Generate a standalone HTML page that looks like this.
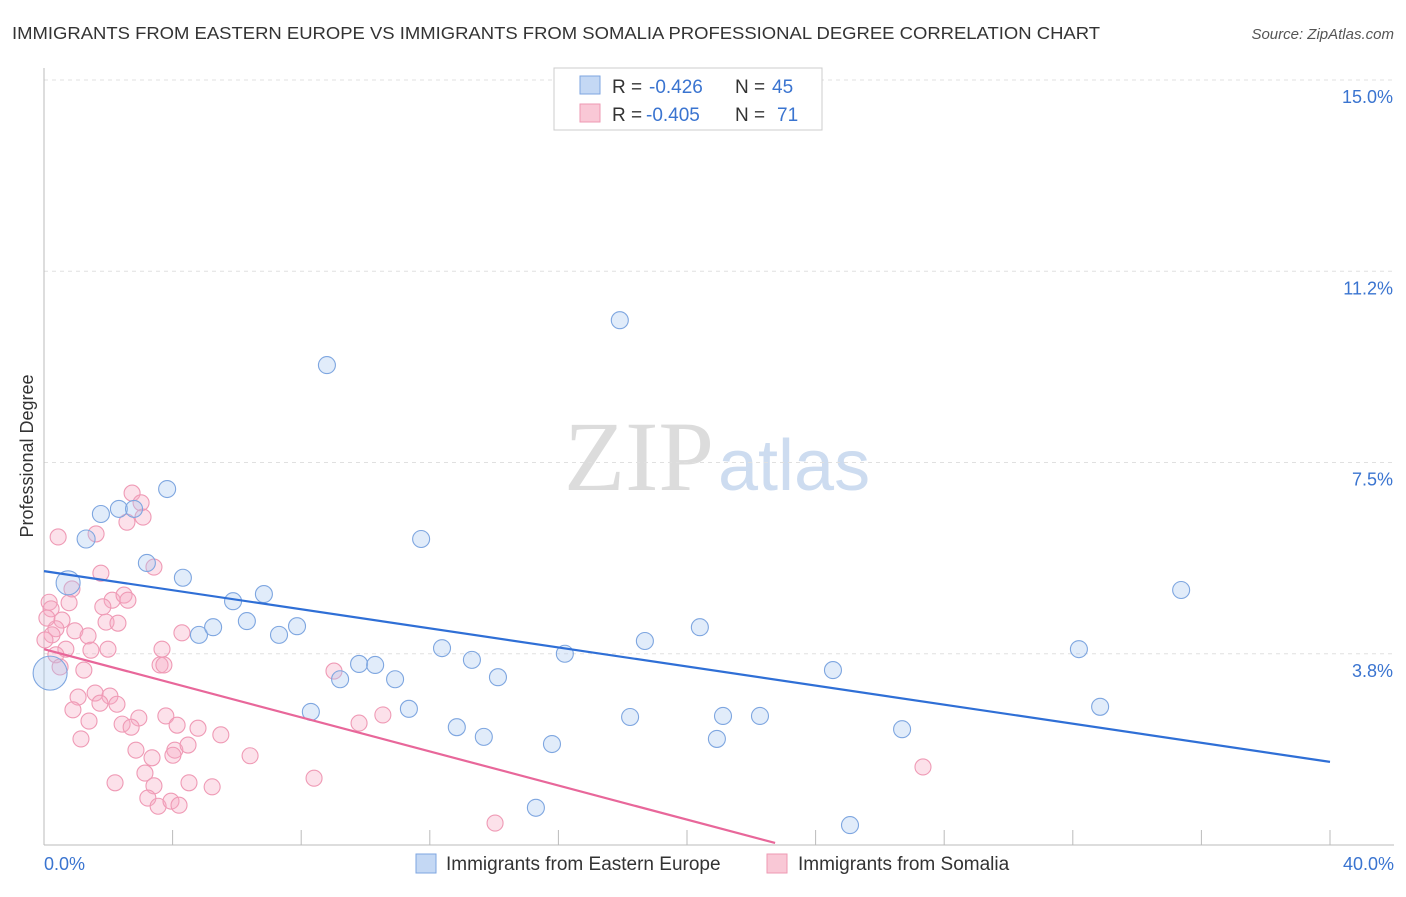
<!DOCTYPE html>
<html><head><meta charset="utf-8"><style>
body{margin:0;background:#fff;font-family:"Liberation Sans",sans-serif;}
svg text{font-family:"Liberation Sans",sans-serif;}
</style></head><body>
<svg width="1406" height="892" viewBox="0 0 1406 892">
<text x="12" y="39" font-size="17.5" fill="#333" textLength="1088" lengthAdjust="spacingAndGlyphs">IMMIGRANTS FROM EASTERN EUROPE VS IMMIGRANTS FROM SOMALIA PROFESSIONAL DEGREE CORRELATION CHART</text>
<text x="1394" y="39" font-size="15" fill="#555" font-style="italic" text-anchor="end">Source: ZipAtlas.com</text>
<text x="714" y="490" font-size="100" fill="#dcdcdc" text-anchor="end" font-family="Liberation Serif" style="font-family:'Liberation Serif',serif">ZIP</text>
<text x="718" y="490" font-size="72" fill="#cddcf0">atlas</text>
<g id="grid"></g><g id="axes"></g><g id="marks"></g>
<text transform="translate(33,456) rotate(-90)" font-size="18" fill="#333" text-anchor="middle">Professional Degree</text>
<text x="44" y="870" font-size="18" fill="#3a74d0">0.0%</text>
<text x="1394" y="870" font-size="18" fill="#3a74d0" text-anchor="end">40.0%</text>
<g>
<rect x="554" y="68" width="268" height="62" fill="#fff" stroke="#ccc"/>
<rect x="580" y="76" width="20" height="18" fill="#c4d8f4" stroke="#7ea6e0"/>
<rect x="580" y="104" width="20" height="18" fill="#f9c8d6" stroke="#ee99b3"/>
<text x="612" y="93" font-size="19" fill="#333">R =</text>
<text x="649" y="93" font-size="19" fill="#3a74d0">-0.426</text>
<text x="735" y="93" font-size="19" fill="#333">N =</text>
<text x="772" y="93" font-size="19" fill="#3a74d0">45</text>
<text x="612" y="121" font-size="19" fill="#333">R =</text>
<text x="646" y="121" font-size="19" fill="#3a74d0">-0.405</text>
<text x="735" y="121" font-size="19" fill="#333">N =</text>
<text x="777" y="121" font-size="19" fill="#3a74d0">71</text>
</g>
<g>
<rect x="416" y="854" width="20" height="19" fill="#c4d8f4" stroke="#7ea6e0"/>
<text x="446" y="870" font-size="19" fill="#333">Immigrants from Eastern Europe</text>
<rect x="767" y="854" width="20" height="19" fill="#f9c8d6" stroke="#ee99b3"/>
<text x="798" y="870" font-size="19" fill="#333">Immigrants from Somalia</text>
</g>
</svg>
<script>
const yTicks=[3.75,7.5,11.25,15];
const yTickLabels=["3.8%","7.5%","11.2%","15.0%"];
const xTicks=[0,4,8,12,16,20,24,28,32,36,40];
const blueX=[0.75,0.19,1.31,1.77,2.33,2.8,3.83,3.2,4.32,4.82,5.26,5.88,6.31,6.84,7.31,7.87,8.8,8.3,9.21,9.8,10.3,10.92,11.35,11.73,12.38,12.84,13.31,13.68,14.12,15.3,15.8,16.2,17.91,18.23,18.69,20.4,20.93,21.12,22.27,24.54,25.07,26.69,32.19,32.85,35.37];
const blueY=[5.14,3.37,6.0,6.49,6.59,6.59,6.98,5.53,5.24,4.12,4.27,4.78,4.39,4.92,4.12,4.29,9.41,2.61,3.25,3.55,3.53,3.25,2.67,6.0,3.86,2.31,3.63,2.12,3.29,0.73,1.98,3.75,10.29,2.51,4.0,4.27,2.08,2.53,2.53,3.43,0.39,2.27,3.84,2.71,5.0];
const blueR=[12,17,9,8.5,8.5,8.5,8.5,8.5,8.5,8.5,8.5,8.5,8.5,8.5,8.5,8.5,8.5,8.5,8.5,8.5,8.5,8.5,8.5,8.5,8.5,8.5,8.5,8.5,8.5,8.5,8.5,8.5,8.5,8.5,8.5,8.5,8.5,8.5,8.5,8.5,8.5,8.5,8.5,8.5,8.5];
const pinkX=[0.44,1.62,0.16,0.22,0.78,0.87,0.56,0.37,0.96,1.37,0.25,0.68,1.46,0.37,1.24,1.77,2.12,2.49,2.61,1.83,1.93,2.3,1.99,2.74,3.02,3.08,2.58,3.42,3.67,3.61,3.73,4.29,1.59,2.05,1.06,2.27,1.74,0.9,1.4,1.15,2.95,3.79,4.14,4.79,2.43,2.71,2.86,3.36,4.07,4.01,4.48,5.5,6.41,2.21,3.14,3.42,4.51,5.23,3.23,3.55,3.95,4.2,8.4,9.02,9.8,10.54,14.03,27.34,0.03,0.09,0.5];
const pinkY=[6.04,6.1,4.76,4.63,4.75,5.02,4.41,4.24,4.2,4.1,4.12,3.84,3.82,3.73,3.43,5.33,4.8,4.9,4.8,4.67,4.37,4.35,3.84,6.9,6.71,6.43,6.33,5.45,3.84,3.53,3.53,4.16,2.98,2.92,2.9,2.76,2.78,2.65,2.43,2.08,2.49,2.53,2.35,2.29,2.37,2.31,1.86,1.71,1.86,1.76,1.96,2.16,1.75,1.22,1.41,1.16,1.22,1.14,0.92,0.76,0.86,0.78,1.31,3.41,2.39,2.55,0.43,1.53,4.02,4.45,3.49];
const X=v=>44+v*32.15, Y=v=>845-v*51.0;
const NS="http://www.w3.org/2000/svg";
function mk(t,a,p){const e=document.createElementNS(NS,t);for(const k in a)e.setAttribute(k,a[k]);p.appendChild(e);return e;}
const grid=document.getElementById('grid'),axes=document.getElementById('axes'),marks=document.getElementById('marks');
yTicks.forEach((v,i)=>{const l=mk('line',{x1:44,x2:1394,y1:Y(v),y2:Y(v),stroke:'#e0e0e0','stroke-dasharray':'4,4'},grid);


const t=mk('text',{x:1393,y:Y(v)+23,'font-size':18,fill:'#3a74d0','text-anchor':'end'},grid);t.textContent=yTickLabels[i];

});
const ya=mk('line',{x1:44,x2:44,y1:68,y2:845,stroke:'#bbb'},axes);


const xa=mk('line',{x1:44,x2:1394,y1:845,y2:845,stroke:'#bbb'},axes);


xTicks.forEach(v=>{const l=mk('line',{x1:X(v),x2:X(v),y1:830,y2:845,stroke:'#bbb'},axes);

});
pinkX.forEach((v,i)=>{const c=mk('circle',{cx:X(v),cy:Y(pinkY[i]),r:8,fill:'rgba(246,170,195,0.35)',stroke:'#ef9ab5','stroke-width':1.1},marks);

});
blueX.forEach((v,i)=>{const c=mk('circle',{cx:X(v),cy:Y(blueY[i]),r:blueR[i],fill:'rgba(170,200,240,0.35)',stroke:'#7ea6e0','stroke-width':1.1},marks);

});
const bl=mk('line',{x1:X(0),y1:Y(5.37),x2:X(40),y2:Y(1.63),stroke:'#2f6fd6','stroke-width':2.2},marks);


const pl=mk('line',{x1:X(0),y1:Y(3.84),x2:X(22.74),y2:Y(0.04),stroke:'#e8679a','stroke-width':2.2},marks);


</script>
</body></html>
